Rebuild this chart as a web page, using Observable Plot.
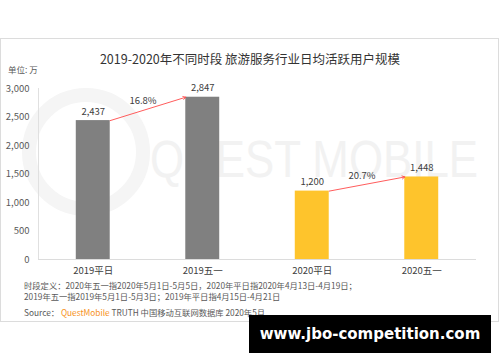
<!DOCTYPE html>
<html><head><meta charset="utf-8">
<script src="https://cdn.jsdelivr.net/npm/d3@7"></script>
<script src="https://cdn.jsdelivr.net/npm/@observablehq/plot@0.6"></script>
<style>
body{margin:0;background:#fff;font-family:"Noto Sans CJK SC","Noto Sans",sans-serif;}
#wrap{position:relative;width:500px;height:362px;overflow:hidden;background:#fff;}
#card{position:absolute;left:0;top:38px;width:497px;height:282px;border:1px solid #dcdcdc;}
.t{position:absolute;white-space:nowrap;color:#595959;}
#wm{position:absolute;left:0;top:0;}
#ring{position:absolute;left:22px;top:88px;width:100px;height:100px;border:14px solid #f5f5f5;border-radius:50%;}
#chart{position:absolute;left:0;top:80px;}
#black{position:absolute;left:249px;top:315px;width:242px;height:38px;background:#000;color:#fff;font-family:"DejaVu Sans",sans-serif;font-weight:bold;font-size:15px;line-height:38px;text-align:center;white-space:nowrap;}
</style></head>
<body><div id="wrap">
<div id="card"></div>
<div id="ring"></div>
<svg id="wm" width="500" height="362"><text x="150" y="177" font-size="51" font-family="Liberation Sans, sans-serif" fill="#f2f2f2" textLength="328" lengthAdjust="spacingAndGlyphs">QUEST MOBILE</text></svg>
<div class="t" style="left:0;width:500px;text-align:center;top:49px;font-size:12.5px;color:#333;">2019-2020年不同时段 旅游服务行业日均活跃用户规模</div>
<div class="t" style="left:8px;top:63px;font-size:8.5px;">单位: 万</div>
<div id="chart"></div>
<div class="t" style="left:24px;top:280px;font-size:8.3px;line-height:10.5px;">时段定义：2020年五一指2020年5月1日-5月5日，2020年平日指2020年4月13日-4月19日；<br>2019年五一指2019年5月1日-5月3日；2019年平日指4月15日-4月21日</div>
<div class="t" style="left:24px;top:306px;font-size:8.3px;">Source：&nbsp;<span style="color:#F7931E">QuestMobile</span> TRUTH 中国移动互联网数据库 2020年5月</div>
<div id="black">www.jbo-competition.com</div>
</div>
<script>
const categories = ["2019平日", "2019五一", "2020平日", "2020五一"];
const values = [2437, 2847, 1200, 1448];
const colors = ["#808080", "#808080", "#FEC42C", "#FEC42C"];
const growthLabels = ["16.8%", "20.7%"];
const growthFrom = [0, 2];
const yTicks = [0, 500, 1000, 1500, 2000, 2500, 3000];

const hw = 0.155;
const bars = categories.map((c, i) => ({i, c, v: values[i], color: colors[i]}));
const arrows = growthFrom.map((f, k) => ({
  x1: f + hw, y1: values[f], x2: f + 1 - hw, y2: values[f + 1],
  label: growthLabels[k], lx: f + 0.5, ly: (values[f] + values[f + 1]) / 2
}));

const plot = Plot.plot({
  width: 500, height: 200,
  marginLeft: 38, marginRight: 24, marginTop: 8, marginBottom: 21,
  style: {fontFamily: '"Noto Sans CJK SC","Noto Sans",sans-serif', fontSize: "10px", color: "#595959", background: "transparent"},
  x: {domain: [-0.5, 3.5], axis: null},
  y: {domain: [0, 3000], axis: null},
  marks: [
    Plot.ruleX([-0.5], {stroke: "#e0e0e0"}),
    Plot.ruleY([0], {stroke: "#dcdcdc"}),
    Plot.axisY({ticks: yTicks, tickSize: 0, tickPadding: 9, tickFormat: d3.format(","), fill: "#595959", fontSize: 9.5}),
    Plot.axisX({ticks: [0, 1, 2, 3], tickSize: 0, tickPadding: 8, tickFormat: i => categories[i], fill: "#404040", fontSize: 9.5}),
    Plot.rectY(bars, {x1: d => d.i - hw, x2: d => d.i + hw, y: "v", fill: "color"}),
    Plot.text(bars, {x: "i", y: "v", text: d => d3.format(",")(d.v), dy: -9, fill: "#404040", fontSize: 9.5}),
    Plot.arrow(arrows, {x1: "x1", y1: "y1", x2: "x2", y2: "y2", stroke: "#FF4A4A", strokeWidth: 0.9, headLength: 5, bend: false}),
    Plot.text(arrows, {x: "lx", y: "ly", text: "label", dy: -8, dx: -5, fill: "#404040", fontSize: 9.5})
  ]
});
document.getElementById("chart").appendChild(plot);
</script>
</body></html>
